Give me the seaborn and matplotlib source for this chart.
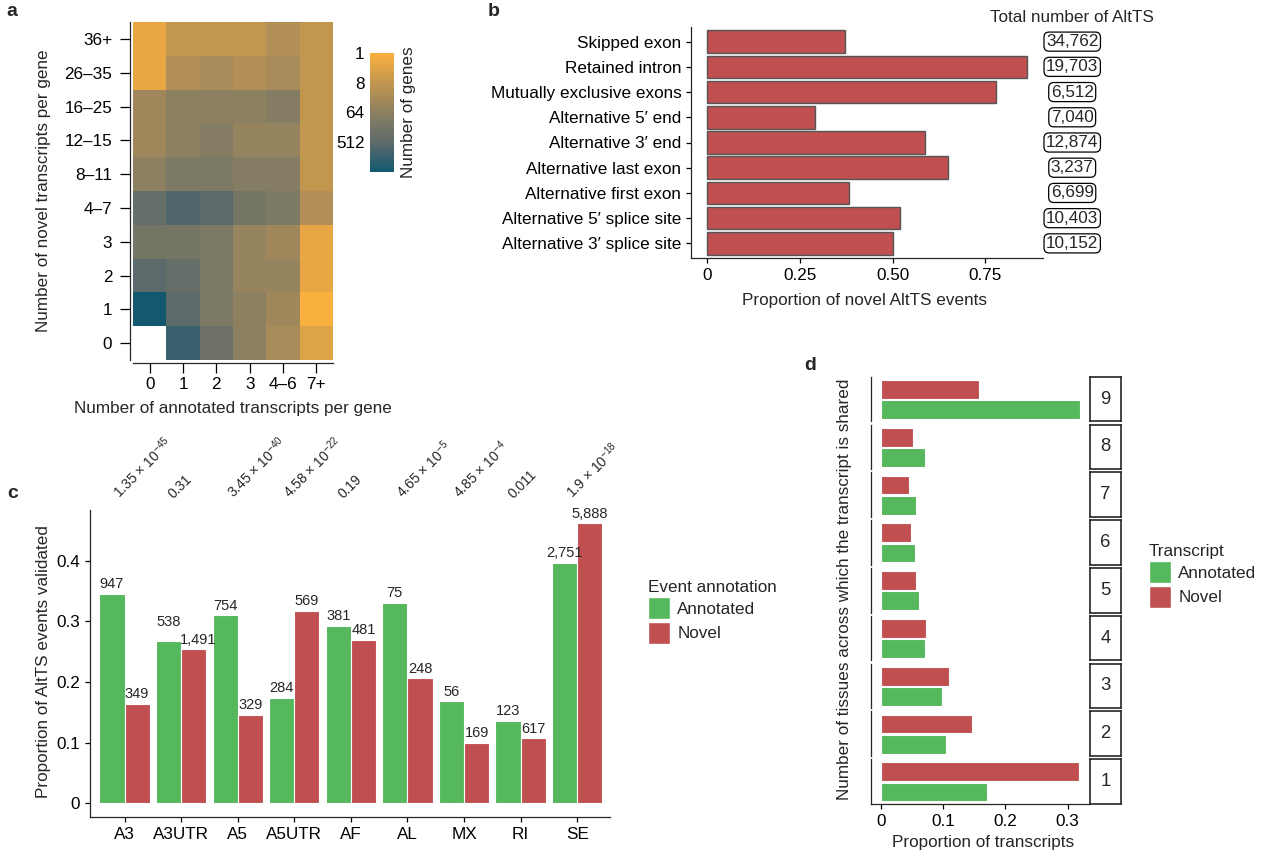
import numpy as np
import pandas as pd
import seaborn as sns
import matplotlib.pyplot as plt
from matplotlib.colors import LinearSegmentedColormap, LogNorm
from matplotlib.patches import Patch

# Daten -------------------------------------------------------------------
# a: Heatmap (Anzahl Gene)
annot_bins = ['0', '1', '2', '3', '4–6', '7+']
novel_bins = ['36+', '26–35', '16–25', '12–15', '8–11', '4–7', '3', '2', '1', '0']
gene_counts = [
    [2, 8, 8, 8, 16, 8],
    [2, 16, 22, 16, 22, 8],
    [32, 64, 64, 64, 90, 8],
    [32, 64, 90, 45, 45, 8],
    [64, 128, 128, 90, 90, 8],
    [360, 720, 512, 180, 128, 16],
    [180, 180, 128, 45, 32, 2],
    [512, 360, 128, 45, 45, 2],
    [4096, 512, 128, 64, 32, 1],
    [np.nan, 1448, 256, 64, 22, 3],
]
cbar_ticks = [1, 8, 64, 512]

# b: Anteil neuer AltTS-Ereignisse
event_types = ['Skipped exon', 'Retained intron', 'Mutually exclusive exons',
               'Alternative 5′ end', 'Alternative 3′ end', 'Alternative last exon',
               'Alternative first exon', 'Alternative 5′ splice site',
               'Alternative 3′ splice site']
novel_fraction = [0.373, 0.861, 0.778, 0.291, 0.587, 0.648, 0.384, 0.521, 0.501]
total_altts = ['34,762', '19,703', '6,512', '7,040', '12,874', '3,237',
               '6,699', '10,403', '10,152']

# c: validierte Ereignisse
events_c = ['A3', 'A3UTR', 'A5', 'A5UTR', 'AF', 'AL', 'MX', 'RI', 'SE']
annot_valid = [0.345, 0.267, 0.310, 0.174, 0.292, 0.331, 0.168, 0.136, 0.397]
novel_valid = [0.164, 0.255, 0.146, 0.317, 0.270, 0.206, 0.100, 0.107, 0.462]
annot_n = [947, 538, 754, 284, 381, 75, 56, 123, 2751]
novel_n = [349, 1491, 329, 569, 481, 248, 169, 617, 5888]
pvals = [r'1.35 × 10$^{\mathregular{-45}}$', '0.31', r'3.45 × 10$^{\mathregular{-40}}$',
         r'4.58 × 10$^{\mathregular{-22}}$', '0.19', r'4.65 × 10$^{\mathregular{-5}}$',
         r'4.85 × 10$^{\mathregular{-4}}$', '0.011', r'1.9 × 10$^{\mathregular{-18}}$']

# d: Gewebe-Sharing
tissues = [9, 8, 7, 6, 5, 4, 3, 2, 1]
annot_share = [0.320, 0.071, 0.056, 0.055, 0.061, 0.071, 0.098, 0.104, 0.170]
novel_share = [0.158, 0.052, 0.045, 0.049, 0.056, 0.072, 0.109, 0.146, 0.319]

GREEN = '#55B85C'
RED = '#C0504F'
FS = 12.3

sns.set_style('ticks')
plt.rcParams['font.family'] = ['Liberation Sans', 'DejaVu Sans']
plt.rcParams['mathtext.fontset'] = 'custom'
plt.rcParams['mathtext.rm'] = 'Liberation Sans'
plt.rcParams['axes.linewidth'] = 0.9
plt.rcParams['xtick.major.width'] = 0.9
plt.rcParams['ytick.major.width'] = 0.9
plt.rcParams['xtick.major.size'] = 3.5
plt.rcParams['ytick.major.size'] = 3.5
plt.rcParams['xtick.labelsize'] = FS
plt.rcParams['ytick.labelsize'] = FS
plt.rcParams['xtick.color'] = 'black'
plt.rcParams['ytick.color'] = 'black'

W, H = 1261, 859
fig = plt.figure(figsize=(W / 100, H / 100), dpi=100)


def px_axes(l, t, r, b):
    return fig.add_axes([l / W, 1 - b / H, (r - l) / W, (b - t) / H])


def px_text(x, y, s, **kw):
    fig.text(x / W, 1 - y / H, s, **kw)


def legend_at(x, y, title, handles, labels):
    # Legende mit quadratischen Schlüsseln, linke obere Ecke in Pixeln
    leg = fig.legend(handles, labels, title=title, loc='upper left',
                     bbox_to_anchor=(x / W, 1 - y / H), frameon=False,
                     fontsize=FS, title_fontsize=FS, handlelength=1.3,
                     handleheight=1.6, handletextpad=0.45, labelspacing=0.15,
                     borderpad=0.5, borderaxespad=0)
    leg._legend_box.align = 'left'
    return leg


# Panel a ---------------------------------------------------------------
cmap = LinearSegmentedColormap.from_list(
    'genes', [(0, '#FAB03E'), (0.25, '#C39650'), (0.5, '#8C8061'),
              (0.75, '#5E6A6B'), (1, '#13586F')])
ax_a = px_axes(133, 22, 333, 360)
cax = px_axes(370, 53, 394, 172)
heat = pd.DataFrame(gene_counts, index=novel_bins, columns=annot_bins)
sns.heatmap(heat, ax=ax_a, cmap=cmap, norm=LogNorm(vmin=1, vmax=4096),
            cbar_ax=cax, cbar_kws={'ticks': cbar_ticks})
ax_a.set_xlabel('')
ax_a.set_ylabel('')
ax_a.tick_params(axis='both', length=7, width=0.9, color='black')
ax_a.tick_params(axis='y', pad=6)
plt.setp(ax_a.get_yticklabels(), rotation=0)
plt.setp(ax_a.get_xticklabels(), rotation=0)
for side in ['left', 'bottom']:
    ax_a.spines[side].set_visible(True)
    ax_a.spines[side].set_linewidth(0.9)
    ax_a.spines[side].set_position(('outward', 2))
for side in ['top', 'right']:
    ax_a.spines[side].set_visible(False)

cax.invert_yaxis()
cax.minorticks_off()
cax.set_yticks(cbar_ticks, labels=[str(t) for t in cbar_ticks])
cax.yaxis.set_ticks_position('both')
cax.tick_params(axis='y', direction='in', color='white', length=4, width=1,
                labelleft=True, labelright=False, labelsize=FS, pad=4)
for s in cax.spines.values():
    s.set_visible(False)
px_text(408, 112, 'Number of genes', rotation=90, ha='center', va='center', fontsize=FS)
px_text(44, 191, 'Number of novel transcripts per gene', rotation=90,
        ha='center', va='center', fontsize=FS)
px_text(233, 409, 'Number of annotated transcripts per gene', ha='center',
        va='center', fontsize=FS)

# Panel b ---------------------------------------------------------------
ax_b = px_axes(691, 27, 1043, 258)
df_b = pd.DataFrame({'event': event_types, 'frac': novel_fraction})
sns.barplot(data=df_b, x='frac', y='event', ax=ax_b, color=RED, saturation=1,
            width=0.89, edgecolor='#555555', linewidth=1)
ax_b.set_xlim(-0.0425, 0.905)
ax_b.set_ylim(8.58, -0.58)
ax_b.set_xticks([0, 0.25, 0.5, 0.75], labels=['0', '0.25', '0.50', '0.75'])
ax_b.set_xlabel('')
ax_b.set_ylabel('')
sns.despine(ax=ax_b)
for i, lab in enumerate(total_altts):
    ax_b.text(1.083, i, lab, transform=ax_b.get_yaxis_transform(), ha='center',
              va='center', fontsize=FS, clip_on=False,
              bbox=dict(boxstyle='round,pad=0.12,rounding_size=0.3', fc='white',
                        ec='black', lw=0.9))
ax_b.text(1.083, 1.039, 'Total number of AltTS', transform=ax_b.transAxes,
          ha='center', va='center', fontsize=FS)
px_text(864, 300, 'Proportion of novel AltTS events', ha='center', va='center',
        fontsize=FS)

# Panel c ---------------------------------------------------------------
ax_c = px_axes(90, 510, 610, 817)
df_c = pd.DataFrame({
    'event': events_c * 2,
    'prop': annot_valid + novel_valid,
    'annotation': ['Annotated'] * len(events_c) + ['Novel'] * len(events_c),
})
sns.barplot(data=df_c, x='event', y='prop', hue='annotation',
            palette={'Annotated': GREEN, 'Novel': RED}, saturation=1,
            width=0.89, edgecolor='white', linewidth=0.8, ax=ax_c, legend=False)
# Zahlen über den Balken; zwei eng beieinander liegende Labels wie im Original versetzt
nudge = {('A3UTR', 0): (0, 7), ('A3UTR', 1): (3, -1)}
for h, counts in enumerate([annot_n, novel_n]):
    for ev, bar, n in zip(events_c, ax_c.containers[h], counts):
        dx, dy = nudge.get((ev, h), (0, 0))
        ax_c.annotate(f'{n:,}', (bar.get_x() + bar.get_width() / 2, bar.get_height()),
                      xytext=(dx, 2 + dy), textcoords='offset points',
                      ha='center', va='bottom', fontsize=10.5)
ax_c.set_xlim(-0.61, 8.58)
ax_c.set_ylim(-0.023, 0.484)
ax_c.set_yticks([0, 0.1, 0.2, 0.3, 0.4], labels=['0', '0.1', '0.2', '0.3', '0.4'])
ax_c.set_xlabel('')
ax_c.set_ylabel('')
sns.despine(ax=ax_c)
for i, p in enumerate(pvals):
    ax_c.text(i - 0.27, 1.03, p, transform=ax_c.get_xaxis_transform(),
              rotation=45, ha='left', va='bottom', fontsize=10, clip_on=False)
px_text(44, 662, 'Proportion of AltTS events validated', rotation=90,
        ha='center', va='center', fontsize=FS)
handles = [Patch(facecolor=GREEN, edgecolor='white'), Patch(facecolor=RED, edgecolor='white')]
legend_at(639, 571, 'Event annotation', handles, ['Annotated', 'Novel'])

# Panel d ---------------------------------------------------------------
top0, ph, period = 376.7, 44.7, 47.8
for k, t in enumerate(tissues):
    top = top0 + k * period
    ax = px_axes(871, top, 1090, top + ph)
    df_d = pd.DataFrame({'kind': ['Novel', 'Annotated'],
                         'prop': [novel_share[k], annot_share[k]]})
    sns.barplot(data=df_d, x='prop', y='kind', hue='kind', order=['Novel', 'Annotated'],
                palette={'Annotated': GREEN, 'Novel': RED}, saturation=1,
                width=0.93, edgecolor='white', linewidth=0.8, ax=ax,
                legend=False, dodge=False)
    ax.set_xlim(-0.016, 0.336)
    ax.set_ylim(1.58, -0.63)
    ax.set_xlabel('')
    ax.set_ylabel('')
    ax.set_yticks([])
    for s in ['top', 'right']:
        ax.spines[s].set_visible(False)
    if k == len(tissues) - 1:
        ax.set_xticks([0, 0.1, 0.2, 0.3], labels=['0', '0.1', '0.2', '0.3'])
    else:
        ax.spines['bottom'].set_visible(False)
        ax.set_xticks([])
    strip = px_axes(1090, top, 1121, top + ph)
    strip.set_xticks([])
    strip.set_yticks([])
    for s in strip.spines.values():
        s.set_linewidth(1.2)
    strip.text(0.5, 0.5, str(t), ha='center', va='center', fontsize=FS + 1,
               transform=strip.transAxes)

px_text(845, 589, 'Number of tissues across which the transcript is shared',
        rotation=90, ha='center', va='center', fontsize=FS)
px_text(983, 843, 'Proportion of transcripts', ha='center', va='center', fontsize=FS)
legend_at(1140, 535, 'Transcript', handles, ['Annotated', 'Novel'])

# Panel-Buchstaben
for x, y, s in [(12, 12, 'a'), (494, 12, 'b'), (13, 493, 'c'), (810, 366, 'd')]:
    px_text(x, y, s, ha='center', va='center', fontsize=14, fontweight='bold')

plt.savefig('out.png', dpi=100)
plt.close()
